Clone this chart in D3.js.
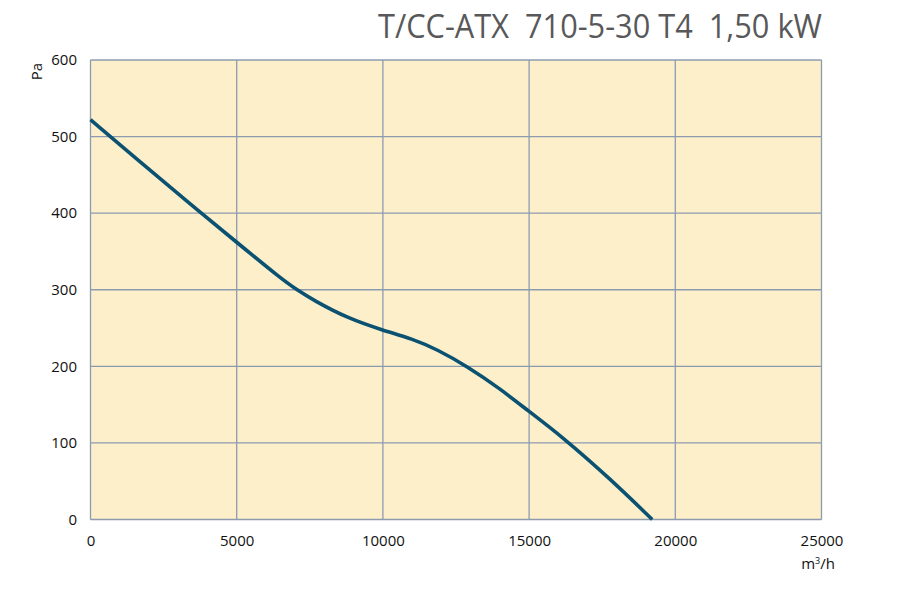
<!DOCTYPE html>
<html><head><meta charset="utf-8">
<script src="https://cdn.jsdelivr.net/npm/d3@7"></script>
<style>body{margin:0;background:#fff}svg{display:block}</style>
</head><body>
<svg id="chart" width="900" height="600"></svg>
<script>
const titleText = "T/CC-ATX  710-5-30 T4  1,50 kW";
const flow = [0, 1600, 3250, 5000, 6500, 7050, 7640, 8780, 10000, 11000, 11860, 12880, 14000, 15000, 16070, 17780, 19210];
const pressure = [522, 470, 417, 362, 315, 300, 286, 263, 247, 236, 222, 200, 171, 141, 110, 53, 0];
const xTicks = [0, 5000, 10000, 15000, 20000, 25000];
const yTicks = [0, 100, 200, 300, 400, 500, 600];

const svg = d3.select("#chart");
const L = 90.5, R = 821.5, T = 60, B = 519.5;
const x = d3.scaleLinear().domain([0, 25000]).range([L, R]);
const y = d3.scaleLinear().domain([0, 600]).range([B, T]);

svg.append("rect").attr("x", L).attr("y", T).attr("width", R - L).attr("height", B - T)
  .attr("fill", "#fdefca");

const grid = svg.append("g").attr("stroke", "#8c9bb0").attr("stroke-width", 1.3);
xTicks.forEach(t => grid.append("line").attr("x1", x(t)).attr("x2", x(t)).attr("y1", T).attr("y2", B));
yTicks.forEach(t => grid.append("line").attr("x1", L).attr("x2", R).attr("y1", y(t)).attr("y2", y(t)));

const font = "'Open Sans', sans-serif";
const xAxis = d3.axisBottom(x).tickValues(xTicks).tickSize(0).tickPadding(0).tickFormat(d3.format("d"));
svg.append("g").attr("transform", `translate(0,546)`).call(xAxis)
  .call(g => g.select(".domain").remove())
  .selectAll("text").attr("dy", 0).attr("y", 0)
  .attr("font-family", font).attr("font-size", 15).attr("fill", "#111");

const yAxis = d3.axisLeft(y).tickValues(yTicks).tickSize(0).tickPadding(0).tickFormat(d3.format("d"));
svg.append("g").attr("transform", `translate(77,0)`).call(yAxis)
  .call(g => g.select(".domain").remove())
  .selectAll("text").attr("font-family", font).attr("font-size", 15).attr("fill", "#111");

const line = d3.line().x((d, i) => x(flow[i])).y(d => y(d)).curve(d3.curveBasis);
svg.append("path").datum(pressure).attr("d", line).attr("fill", "none")
  .attr("stroke", "#0b5272").attr("stroke-width", 3.6).attr("stroke-linecap", "butt");

svg.append("text").attr("x", 822).attr("y", 38).attr("text-anchor", "end")
  .style("white-space", "pre").attr("xml:space", "preserve")
  .attr("font-family", font).attr("font-size", 33).attr("fill", "#58585a")
  .attr("textLength", 444).attr("lengthAdjust", "spacingAndGlyphs").text(titleText);

svg.append("text").attr("transform", "translate(42,63) rotate(-90)").attr("text-anchor", "end")
  .attr("font-family", font).attr("font-size", 15).attr("fill", "#111").text("Pa");

const unit = svg.append("text").attr("x", 818).attr("y", 569).attr("text-anchor", "middle")
  .attr("font-family", font).attr("font-size", 15).attr("fill", "#111");
unit.append("tspan").text("m");
unit.append("tspan").attr("dy", -5).attr("font-size", 9).text("3");
unit.append("tspan").attr("dy", 5).text("/h");
</script>
</body></html>
